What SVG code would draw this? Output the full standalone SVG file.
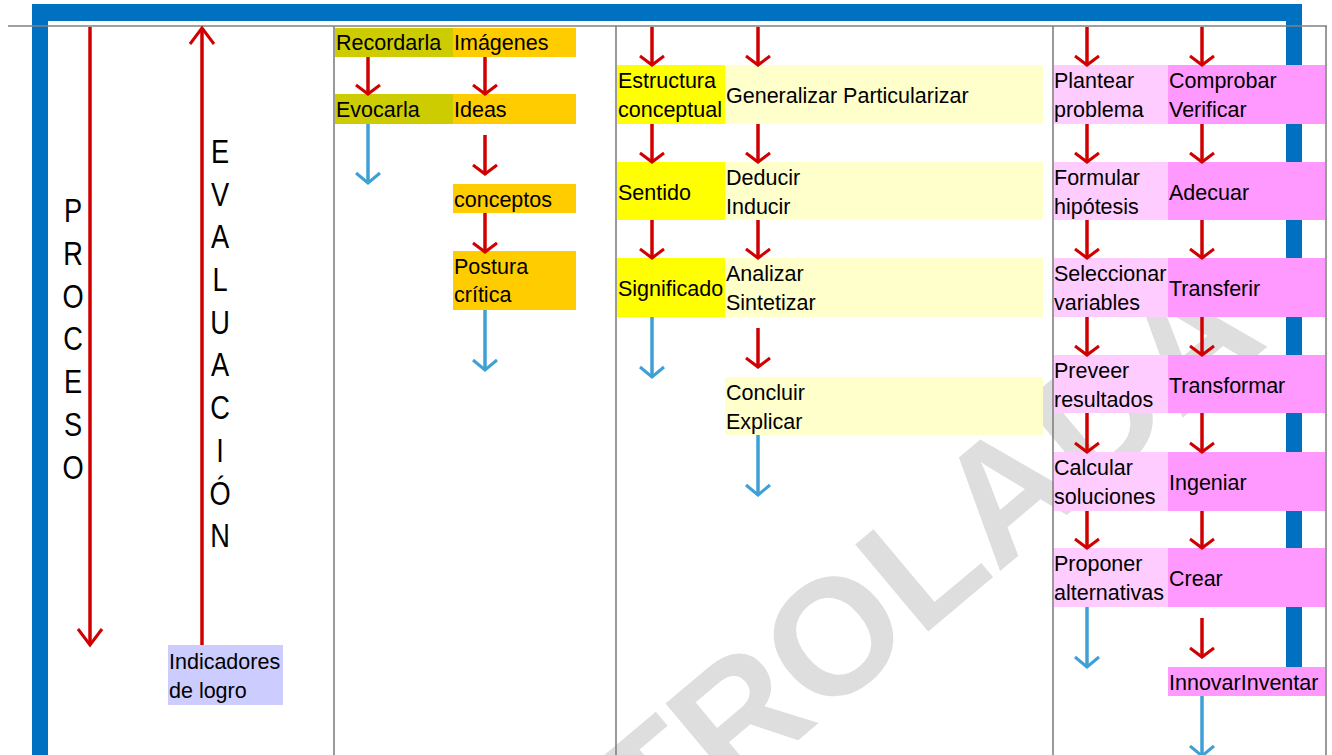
<svg xmlns="http://www.w3.org/2000/svg" width="1332" height="755" viewBox="0 0 1332 755">
<style>
.t{font-family:"Liberation Sans",Arial,sans-serif;font-size:21.5px;fill:#000}
.big{font-family:"Liberation Sans",Arial,sans-serif;font-size:34px;fill:#000;text-anchor:middle}
.grid{stroke:#808080;stroke-width:1.6;fill:none}
.frame{fill:#0070c0}
.r{stroke:#d00000;stroke-width:3.5;fill:none;marker-end:url(#hr)}
.b{stroke:#3fa0d6;stroke-width:3.5;fill:none;marker-end:url(#hb)}
.olive{fill:#cccc00}.orange{fill:#ffcc00}.yel{fill:#ffff00}.lyel{fill:#ffffcc}
.lpink{fill:#ffccff}.pink{fill:#ff99ff}.lav{fill:#ccccff}
.wm{font-family:"Liberation Sans",Arial,sans-serif;font-weight:bold;font-size:165px;fill:#dedede}
</style>
<defs>
<marker id="hr" markerUnits="userSpaceOnUse" markerWidth="30" markerHeight="30" refX="0" refY="0" orient="auto" overflow="visible">
<path d="M-9,-12 L0,0 L-9,12" fill="none" stroke="#d00000" stroke-width="3"/>
</marker>
<marker id="hb" markerUnits="userSpaceOnUse" markerWidth="30" markerHeight="30" refX="0" refY="0" orient="auto" overflow="visible">
<path d="M-10,-12 L0,0 L-10,12" fill="none" stroke="#3fa0d6" stroke-width="3"/>
</marker>
<marker id="hbig" markerUnits="userSpaceOnUse" markerWidth="40" markerHeight="40" refX="0" refY="0" orient="auto" overflow="visible">
<path d="M-16,-12 L0,0 L-16,12" fill="none" stroke="#d00000" stroke-width="3"/>
</marker>
</defs>
<rect width="1332" height="755" fill="#ffffff"/>
<text class="wm" transform="translate(372,1098) rotate(-40)">CONTROLADA</text>
<g id="frame">
<rect class="frame" x="32" y="4" width="1270" height="17"/>
<rect class="frame" x="32" y="4" width="16" height="751"/>
<rect class="frame" x="1286" y="4" width="16" height="663"/>
</g>
<g id="grid">
<line class="grid" x1="8" y1="26" x2="1327" y2="26"/>
<line class="grid" x1="334" y1="26" x2="334" y2="755"/>
<line class="grid" x1="616" y1="26" x2="616" y2="755"/>
<line class="grid" x1="1053" y1="26" x2="1053" y2="755"/>
<line class="grid" x1="1326" y1="26" x2="1326" y2="755"/>
</g>
<g id="proceso">
<g transform="translate(73,0) scale(0.8,1)">
<text class="big" x="0" y="222">P</text>
<text class="big" x="0" y="265">R</text>
<text class="big" x="0" y="308">O</text>
<text class="big" x="0" y="350">C</text>
<text class="big" x="0" y="393">E</text>
<text class="big" x="0" y="436">S</text>
<text class="big" x="0" y="479">O</text>
</g>
</g>
<g id="evaluacion">
<g transform="translate(220,0) scale(0.8,1)">
<text class="big" x="0" y="163">E</text>
<text class="big" x="0" y="206">V</text>
<text class="big" x="0" y="248">A</text>
<text class="big" x="0" y="291">L</text>
<text class="big" x="0" y="334">U</text>
<text class="big" x="0" y="376">A</text>
<text class="big" x="0" y="419">C</text>
<text class="big" x="0" y="462">I</text>
<text class="big" x="0" y="505">Ó</text>
<text class="big" x="0" y="547">N</text>
</g>
</g>
<g id="indicadores"><rect class="lav" x="168" y="645" width="115" height="60"/><text class="t" x="169" y="669">Indicadores</text><text class="t" x="169" y="698">de logro</text></g>
<g id="recordarla"><rect class="olive" x="335" y="28" width="118" height="29"/><text class="t" x="336" y="50">Recordarla</text></g>
<g id="imagenes"><rect class="orange" x="453" y="28" width="123" height="29"/><text class="t" x="454" y="50">Imágenes</text></g>
<g id="evocarla"><rect class="olive" x="335" y="94" width="118" height="30"/><text class="t" x="336" y="117">Evocarla</text></g>
<g id="ideas"><rect class="orange" x="453" y="94" width="123" height="30"/><text class="t" x="454" y="117">Ideas</text></g>
<g id="conceptos"><rect class="orange" x="453" y="184" width="123" height="29"/><text class="t" x="454" y="207">conceptos</text></g>
<g id="postura"><rect class="orange" x="453" y="251" width="123" height="59"/><text class="t" x="454" y="274">Postura</text><text class="t" x="454" y="302">crítica</text></g>
<g id="estructura"><rect class="yel" x="617" y="65" width="108" height="59"/><text class="t" x="618" y="88">Estructura</text><text class="t" x="618" y="117">conceptual</text></g>
<g id="generalizar"><rect class="lyel" x="725" y="65" width="318" height="59"/><text class="t" x="726" y="103">Generalizar Particularizar</text></g>
<g id="sentido"><rect class="yel" x="617" y="162" width="108" height="58"/><text class="t" x="618" y="200">Sentido</text></g>
<g id="deducir"><rect class="lyel" x="725" y="162" width="318" height="58"/><text class="t" x="726" y="185">Deducir</text><text class="t" x="726" y="214">Inducir</text></g>
<g id="significado"><rect class="yel" x="617" y="258" width="108" height="59"/><text class="t" x="618" y="296">Significado</text></g>
<g id="analizar"><rect class="lyel" x="725" y="258" width="318" height="59"/><text class="t" x="726" y="281">Analizar</text><text class="t" x="726" y="310">Sintetizar</text></g>
<g id="concluir"><rect class="lyel" x="725" y="377" width="318" height="58"/><text class="t" x="726" y="400">Concluir</text><text class="t" x="726" y="429">Explicar</text></g>
<g id="plantear"><rect class="lpink" x="1054" y="65" width="114" height="59"/><text class="t" x="1054" y="88">Plantear</text><text class="t" x="1054" y="117">problema</text></g>
<g id="comprobar"><rect class="pink" x="1168" y="65" width="157" height="59"/><text class="t" x="1169" y="88">Comprobar</text><text class="t" x="1169" y="117">Verificar</text></g>
<g id="formular"><rect class="lpink" x="1054" y="162" width="114" height="58"/><text class="t" x="1054" y="185">Formular</text><text class="t" x="1054" y="214">hipótesis</text></g>
<g id="adecuar"><rect class="pink" x="1168" y="162" width="157" height="58"/><text class="t" x="1169" y="200">Adecuar</text></g>
<g id="seleccionar"><rect class="lpink" x="1054" y="258" width="114" height="59"/><text class="t" x="1054" y="281">Seleccionar</text><text class="t" x="1054" y="310">variables</text></g>
<g id="transferir"><rect class="pink" x="1168" y="258" width="157" height="59"/><text class="t" x="1169" y="296">Transferir</text></g>
<g id="preveer"><rect class="lpink" x="1054" y="355" width="114" height="58"/><text class="t" x="1054" y="378">Preveer</text><text class="t" x="1054" y="407">resultados</text></g>
<g id="transformar"><rect class="pink" x="1168" y="355" width="157" height="58"/><text class="t" x="1169" y="393">Transformar</text></g>
<g id="calcular"><rect class="lpink" x="1054" y="452" width="114" height="59"/><text class="t" x="1054" y="475">Calcular</text><text class="t" x="1054" y="504">soluciones</text></g>
<g id="ingeniar"><rect class="pink" x="1168" y="452" width="157" height="59"/><text class="t" x="1169" y="490">Ingeniar</text></g>
<g id="proponer"><rect class="lpink" x="1054" y="548" width="114" height="59"/><text class="t" x="1054" y="571">Proponer</text><text class="t" x="1054" y="600">alternativas</text></g>
<g id="crear"><rect class="pink" x="1168" y="548" width="157" height="59"/><text class="t" x="1169" y="586">Crear</text></g>
<g id="innovar"><rect class="pink" x="1168" y="667" width="157" height="29"/><text class="t" x="1169" y="690">InnovarInventar</text></g>
<g id="connectors">
<line x1="90" y1="27" x2="90" y2="645" stroke="#d00000" stroke-width="3.5" marker-end="url(#hbig)"/>
<line x1="202" y1="645" x2="202" y2="28" stroke="#d00000" stroke-width="3.5" marker-end="url(#hbig)"/>
<line class="r" x1="368" y1="57" x2="368" y2="94"/>
<line class="r" x1="485" y1="57" x2="485" y2="94"/>
<line class="b" x1="368" y1="124" x2="368" y2="183"/>
<line class="r" x1="485" y1="135" x2="485" y2="174"/>
<line class="r" x1="485" y1="213" x2="485" y2="252"/>
<line class="b" x1="485" y1="310" x2="485" y2="370"/>
<line class="r" x1="652" y1="27" x2="652" y2="65"/>
<line class="r" x1="758" y1="27" x2="758" y2="65"/>
<line class="r" x1="652" y1="124" x2="652" y2="162"/>
<line class="r" x1="758" y1="124" x2="758" y2="162"/>
<line class="r" x1="652" y1="220" x2="652" y2="258"/>
<line class="r" x1="758" y1="220" x2="758" y2="258"/>
<line class="b" x1="652" y1="317" x2="652" y2="377"/>
<line class="r" x1="758" y1="328" x2="758" y2="367"/>
<line class="b" x1="758" y1="435" x2="758" y2="495"/>
<line class="r" x1="1087" y1="27" x2="1087" y2="65"/>
<line class="r" x1="1202" y1="27" x2="1202" y2="65"/>
<line class="r" x1="1087" y1="124" x2="1087" y2="162"/>
<line class="r" x1="1202" y1="124" x2="1202" y2="162"/>
<line class="r" x1="1087" y1="220" x2="1087" y2="258"/>
<line class="r" x1="1202" y1="220" x2="1202" y2="258"/>
<line class="r" x1="1087" y1="317" x2="1087" y2="355"/>
<line class="r" x1="1202" y1="317" x2="1202" y2="355"/>
<line class="r" x1="1087" y1="413" x2="1087" y2="452"/>
<line class="r" x1="1202" y1="413" x2="1202" y2="452"/>
<line class="r" x1="1087" y1="511" x2="1087" y2="548"/>
<line class="r" x1="1202" y1="511" x2="1202" y2="548"/>
<line class="b" x1="1087" y1="607" x2="1087" y2="667"/>
<line class="r" x1="1202" y1="618" x2="1202" y2="657"/>
<line class="b" x1="1202" y1="696" x2="1202" y2="756"/>
</g>
</svg>
